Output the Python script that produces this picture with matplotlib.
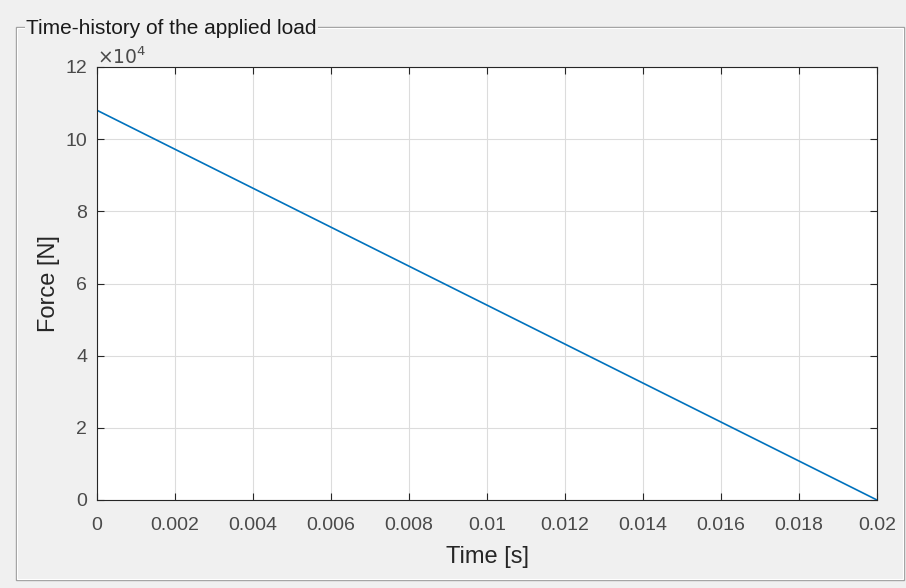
import matplotlib
matplotlib.use("Agg")
import matplotlib.pyplot as plt
from matplotlib.patches import Rectangle

time_s = [0.0, 0.02]
force_N = [108000, 0]
x_ticks = [0, 0.002, 0.004, 0.006, 0.008, 0.01, 0.012, 0.014, 0.016, 0.018, 0.02]
x_tick_labels = ["0", "0.002", "0.004", "0.006", "0.008", "0.01", "0.012", "0.014", "0.016", "0.018", "0.02"]
y_ticks = [0, 20000, 40000, 60000, 80000, 100000, 120000]
y_tick_labels = ["0", "2", "4", "6", "8", "10", "12"]

plt.rcParams['font.family'] = ['Liberation Sans', 'DejaVu Sans']
bg = '#f0f0f0'
fig = plt.figure(figsize=(9.06, 5.88), dpi=100, facecolor=bg)
W, H = 906, 588

def fx(px):
    return px / W
def fy(py):
    return 1 - py / H

# panel frame (etched look)
fig.patches.append(Rectangle((fx(16), fy(580)), fx(904) - fx(16), fy(27) - fy(580),
                             transform=fig.transFigure, fill=False, edgecolor='#a0a0a0', lw=1.0))
fig.patches.append(Rectangle((fx(17), fy(579)), fx(903) - fx(17), fy(28) - fy(579),
                             transform=fig.transFigure, fill=False, edgecolor='#ffffff', lw=0.8))
fig.text(fx(26), fy(28), "Time-history of the applied load", fontsize=15, color='#1a1a1a',
         va='center', ha='left',
         bbox=dict(facecolor=bg, edgecolor='none', pad=1.0))

ax = fig.add_axes([fx(97), fy(500), fx(877) - fx(97), fy(67) - fy(500)])
ax.set_facecolor('white')
ax.plot(time_s, force_N, color='#0072BD', lw=1.2)
ax.set_xlim(0, 0.02)
ax.set_ylim(0, 120000)
ax.set_xticks(x_ticks)
ax.set_xticklabels(x_tick_labels)
ax.set_yticks(y_ticks)
ax.set_yticklabels(y_tick_labels)
ax.grid(True, color='#dcdcdc', lw=0.8)
ax.set_axisbelow(True)
ax.tick_params(direction='in', length=5, width=0.8, colors='#262626', labelsize=14,
               top=True, right=True, labelcolor='#4a4a4a')
ax.tick_params(axis='x', pad=12)
ax.tick_params(axis='y', pad=7)
for s in ax.spines.values():
    s.set_color('#262626')
    s.set_linewidth(0.8)
ax.set_xlabel("Time [s]", fontsize=17, color='#262626', labelpad=9)
ax.set_ylabel("Force [N]", fontsize=17, color='#262626', labelpad=4)
ax.text(0.0, 0.998, r"$\times10^{4}$", transform=ax.transAxes, fontsize=13.5, color='#4a4a4a',
        ha='left', va='bottom', math_fontfamily='dejavusans')

fig.savefig("out.png", dpi=100, facecolor=bg)
